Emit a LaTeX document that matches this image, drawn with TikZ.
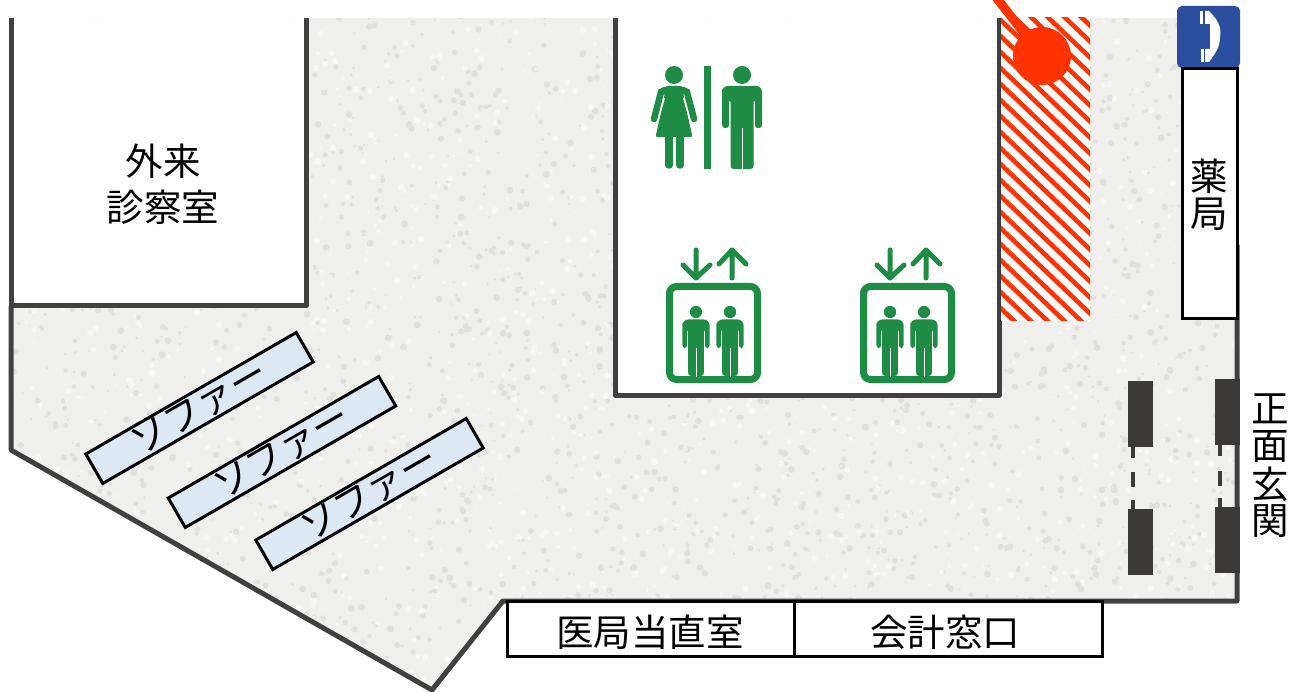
\documentclass[tikz,border=0pt]{standalone}
\usepackage{fontspec}
\setmainfont{Noto Sans CJK JP}
\definecolor{floorgray}{HTML}{EFEFED}
\definecolor{wallgray}{HTML}{404040}
\definecolor{signgreen}{HTML}{1E8C45}
\definecolor{hatchred}{HTML}{FF3300}
\definecolor{phoneblue}{HTML}{2B4F9E}
\definecolor{sofablue}{HTML}{DDE8F5}
\definecolor{doorgray}{HTML}{3B3A39}
\newcommand{\ManIcon}[2][1]{%
  \begin{scope}[shift={(#2)}, scale=#1]
  \fill[signgreen] (0,0) circle (9);
  \fill[signgreen, rounded corners=3] (-20,53) -- (-20,16) [rounded corners=6] -- (-20,11) -- (20,11) [rounded corners=3] -- (20,53) -- (13,53) -- (13,24) -- (11.5,24) -- (11.5,94) -- (-11.5,94) -- (-11.5,24) -- (-13,24) -- (-13,53) -- cycle;
  \draw[white, line width=1] (0,53) -- (0,95);
  \end{scope}}
\newcommand{\WomanIcon}[1]{%
  \begin{scope}[shift={(#1)}]
  \fill[signgreen] (0,0) circle (9);
  \fill[signgreen, rounded corners=2] (-9,11) -- (9,11) -- (10,24) -- (18.5,62) -- (-18.5,62) -- (-10,24) -- cycle;
  \draw[signgreen, line width=6.5, line cap=round] (-9,15) -- (-13,17) -- (-20,44);
  \draw[signgreen, line width=6.5, line cap=round] (9,15) -- (13,17) -- (20,44);
  \draw[white, line width=1] (-9.5,23) -- (-16,46);
  \draw[white, line width=1] (9.5,23) -- (16,46);
  \draw[signgreen, line width=7.5, line cap=round] (-5,60) -- (-5,90);
  \draw[signgreen, line width=7.5, line cap=round] (6,60) -- (6,90);
  \end{scope}}
\newcommand{\LiftIcon}[1]{%
  \begin{scope}[shift={(#1)}]
  \draw[signgreen, line width=7, rounded corners=7] (3.5,3.5) rectangle (91.5,96.5);
  \ManIcon[0.68]{30,29}
  \ManIcon[0.68]{64,29}
  \draw[signgreen, line width=5, line cap=round, line join=round] (30,-33) -- (30,-5) (17,-18) -- (30,-5) -- (44,-18);
  \draw[signgreen, line width=5, line cap=round, line join=round] (66,-5) -- (66,-33) (53,-19) -- (66,-33) -- (80,-19);
  \end{scope}}
\tikzset{
  wall/.style={wallgray, line width=5, line join=round},
  roombox/.style={draw=black, fill=white, line width=3},
  door/.style={fill=doorgray},
  label/.style={inner sep=0, font=\fontsize{37.5}{37.5}\selectfont},
  sofa/.style={draw=black, fill=sofablue, line width=3, minimum width=243, minimum height=34, rotate=30, inner sep=0, font=\fontsize{37.5}{37.5}\selectfont}
}
\begin{document}
\begin{tikzpicture}[x=1pt, y=-1pt]
\useasboundingbox (0,0) rectangle (1298,692);

% floor
\begin{scope}
\clip (11,18) -- (11,450) -- (432,690) -- (503,601) -- (1237,601) -- (1237,18) -- cycle;
\fill[floorgray] (0,0) rectangle (1298,692);
\pgfmathsetseed{4}
\fill[black!35, opacity=0.2] foreach \i in {1,...,2800}{ ({rnd*1298},{rnd*692}) circle ({1+rnd*2.5}) };
\fill[white, opacity=0.45] foreach \i in {1,...,1800}{ ({rnd*1298},{rnd*692}) circle ({1+rnd*2.5}) };
\end{scope}

% rooms
\fill[white] (11,18) rectangle (306,306);
\fill[white] (615,18) rectangle (999,395);
\draw[wall] (11,18) -- (11,306) -- (306,306) -- (306,18);
\draw[wall] (615,18) -- (615,395) -- (999,395) -- (999,18);
\draw[wall] (11,306) -- (11,450) -- (432,690) -- (503,601) -- (1237,601) -- (1237,245);

\node[label] (gairai) at (163,161) {外来};
\node[label] (shinsatsu) at (163,207) {診察室};

% hatching
\begin{scope}
\clip (1001,18) rectangle (1090,321);
\fill[white] (1001,18) rectangle (1090,321);
\foreach \k in {-8,...,24}{
  \draw[hatchred, line width=4.6] (990,\k*16+10) -- (1100,\k*16+115);
}
\end{scope}
\fill[hatchred] (1042,56) circle (29);
\draw[hatchred, line width=9] (995,-4) -- (1042,56);

% phone
\fill[phoneblue, rounded corners=5] (1177,6) rectangle (1240,68);
\fill[white] (1200,11) rectangle (1203,24);
\fill[white] (1201,49) rectangle (1204,62);
\fill[white] (1205,11) -- (1209,11) .. controls (1218,20) and (1222,28) .. (1220,37) .. controls (1220,48) and (1214,55) .. (1209,62) -- (1205,62) -- (1205,49) -- (1210,49) -- (1210,24) -- (1205,24) -- cycle;

% pharmacy
\node[roombox, minimum width=55, minimum height=250, inner sep=0] (pharmacy) at (1209.5,194) {};
\node[label] (yaku) at (1209,176) {薬};
\node[label] (kyoku) at (1209,214) {局};

% signs
\WomanIcon{674,75}
\fill[signgreen] (704,66) rectangle (711,169);
\ManIcon{742,75}
\LiftIcon{666,283}
\LiftIcon{860,283}

% sofas
\node[sofa] (sofaA) at (199.5,408) {\raisebox{3pt}{ソファー}};
\node[sofa] (sofaB) at (282,452) {\raisebox{3pt}{ソファー}};
\node[sofa] (sofaC) at (369.5,494) {\raisebox{3pt}{ソファー}};

% bottom rooms
\node[roombox, minimum width=287, minimum height=55, inner sep=0] (duty) at (650.5,628.5) {};
\node[roombox, minimum width=308, minimum height=55, inner sep=0] (cashier) at (948,628.5) {};
\node[label] (dutytext) at (650,632) {医局当直室};
\node[label] (cashiertext) at (945,632) {会計窓口};

% entrance
\foreach \dx/\dy in {1128/381, 1128/509, 1215/379, 1215/507}{
  \fill[door] (\dx,\dy) rectangle ++(25,66);
}
\foreach \dx/\dya/\dyb in {1131/447/458, 1131/472/487, 1131/500/509, 1218/445/456, 1218/471/486, 1218/498/507}{
  \fill[door] (\dx,\dya) rectangle (\dx+4,\dyb);
}
\node[label] (sho) at (1270,409) {正};
\node[label] (men) at (1270,446) {面};
\node[label] (gen) at (1270,484) {玄};
\node[label] (kan) at (1270,521) {関};
\end{tikzpicture}
\end{document}
